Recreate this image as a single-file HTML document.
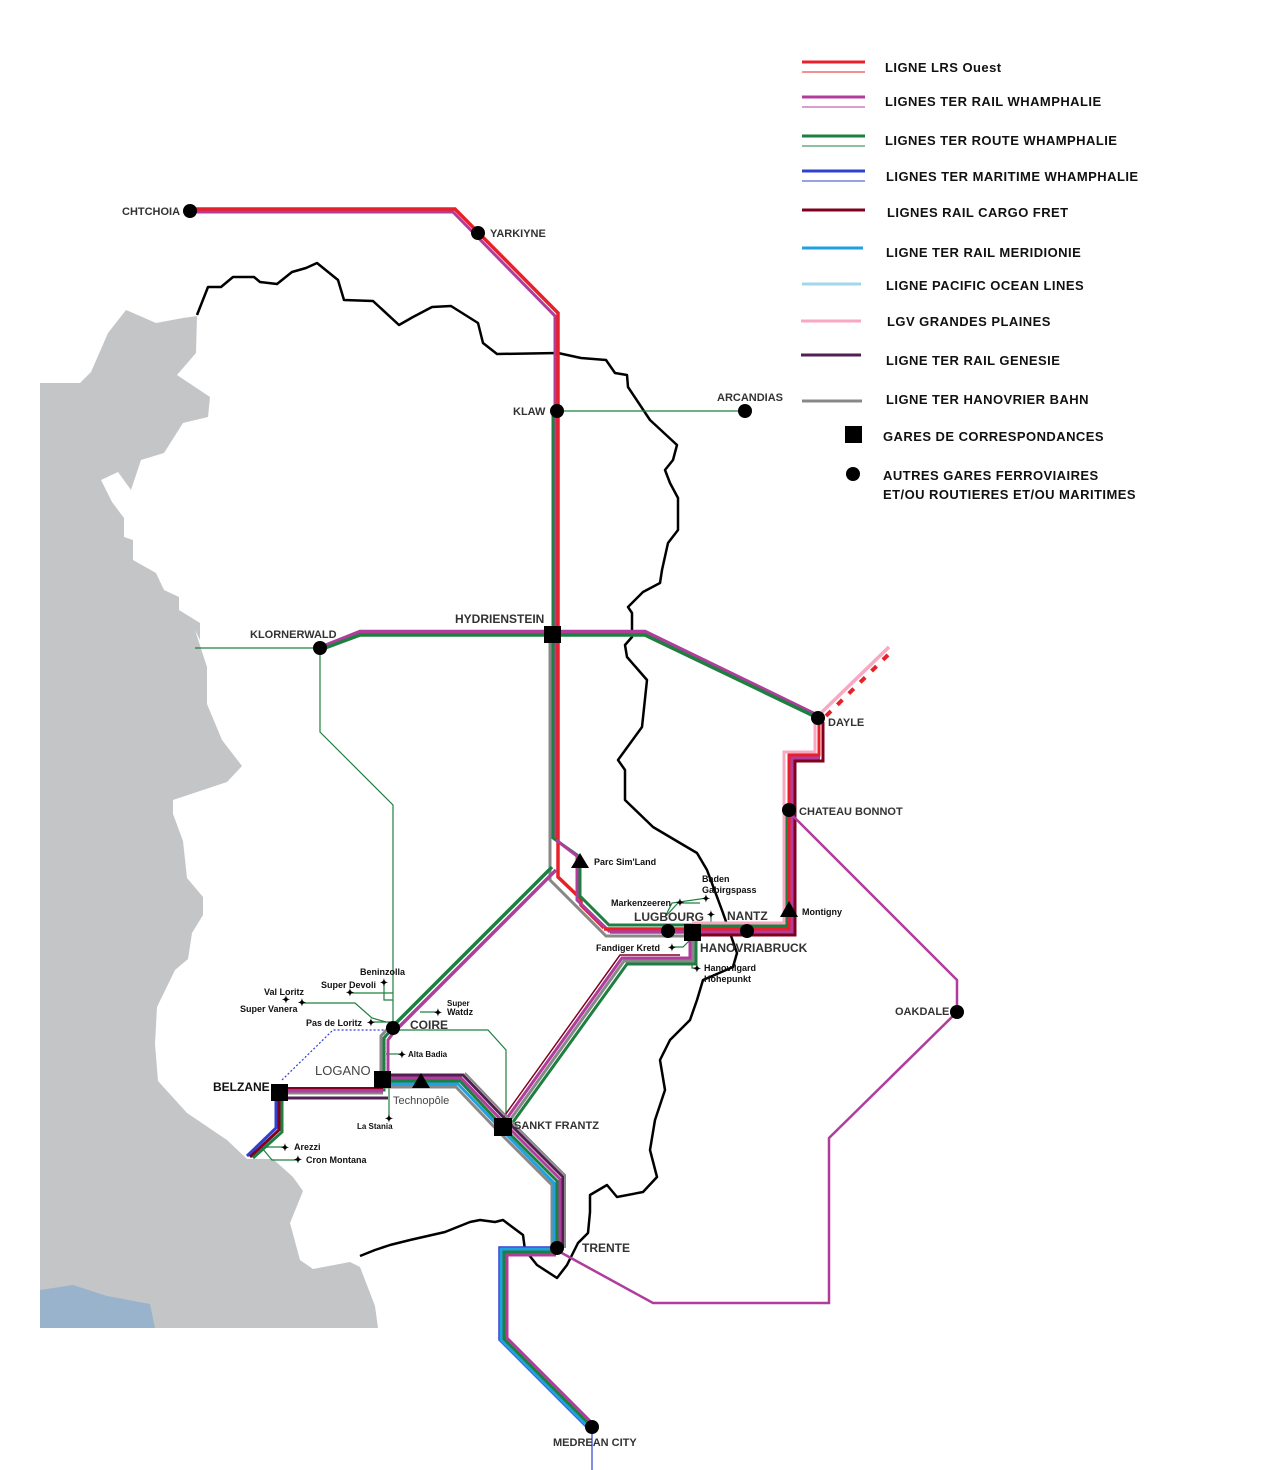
<!DOCTYPE html>
<html><head><meta charset="utf-8"><style>
html,body{margin:0;padding:0;background:#fff;}
svg{display:block;}
text{font-family:"Liberation Sans",Arial,sans-serif;font-weight:bold;fill:#222;}
.lg{font-size:13px;fill:#111;letter-spacing:0.45px;}
.st{font-size:11px;fill:#333;}
.sm{font-size:9px;fill:#111;}
</style></head><body>
<svg width="1285" height="1470" viewBox="0 0 1285 1470" xmlns="http://www.w3.org/2000/svg">
<!-- land -->
<polygon fill="#c4c5c7" points="40,383 80,383 91,372 108,333 126,310 156,323 183,318 197,316 196,353 177,375 210,397 208,417 183,423 164,453 141,460 131,490 118,472 101,480 112,502 124,518 124,537 133,540 133,560 156,573 164,590 179,597 179,610 200,623 200,640 195,630 207,667 207,704 222,740 242,766 227,782 173,800 173,814 183,841 187,878 203,897 203,915 192,933 188,959 175,970 157,1007 155,1044 158,1081 187,1113 227,1140 247,1159 273,1159 293,1177 303,1191 290,1223 300,1260 313,1269 350,1262 360,1267 375,1306 378,1328 40,1328"/>
<polygon fill="#9ab3cc" points="40,1290 73,1285 107,1296 150,1304 155,1328 40,1328"/>
<!-- border -->
<polyline fill="none" stroke="#000" stroke-width="2.5" stroke-linejoin="round" points="197,315 208,287 221,287 233,277 254,277 260,282 277,284 292,272 306,268 317,263 338,280 344,300 373,301 399,325 413,317 432,307 451,306 478,323 483,343 497,354 558,353 581,358 606,360 615,373 627,375 628,387 650,420 677,445 673,460 665,470 670,483 678,498 678,530 668,543 662,570 660,583 643,592 628,607 632,613 632,637 625,645 627,657 647,680 642,727 618,760 625,770 625,800 653,827 680,843 697,853 707,870 723,913 730,933 737,953 733,967 703,980 697,1000 690,1020 670,1040 660,1060 665,1090 655,1120 650,1150 657,1177 643,1192 617,1197 607,1185 590,1195 590,1212 588,1233 578,1243 567,1265 557,1278 537,1265 525,1250 523,1235 503,1220 495,1222 480,1220 470,1222 445,1232 410,1240 390,1245 375,1250 360,1256"/>

<g fill="none" stroke-linejoin="miter">
<!-- thin green connectors -->
<g stroke="#1e8040" stroke-width="1.2">
<line x1="557" y1="411" x2="745" y2="411"/>
<line x1="195" y1="648" x2="320" y2="648"/>
<polyline points="320,648 320,732 393,805 393,1028"/>
<polyline points="393,1030 488,1030 506,1050 506,1125"/>
<polyline points="393,1000 384,1000 384,983"/>
<polyline points="393,993 350,993"/>
<polyline points="303,1003 355,1003 372,1018 386,1022"/>
<polyline points="372,1022 390,1022"/>
<polyline points="420,1012 437,1012"/>
<polyline points="386,1054 402,1054"/>
<polyline points="389,1085 389,1118"/>
<polyline points="262,1148 268,1147 285,1147"/>
<polyline points="262,1148 272,1160 298,1160"/>
<polyline points="665,917 678,903 700,903"/>
<polyline points="665,917 672,903 707,898"/>
<polyline points="711,925 711,914"/>
<polyline points="672,947 683,947 692,938"/>
<polyline points="692,955 692,968 697,968"/>
</g>
<polyline stroke="#3040d0" stroke-width="1.2" stroke-dasharray="2,2" points="282,1080 333,1030 385,1030 385,1078"/>

<!-- top trunk -->
<polyline stroke="#b03c9c" stroke-width="3" points="190,212 453,212 555,316 555,840"/>
<polyline stroke="#e8202a" stroke-width="3.5" points="190,209 455,209 558,313 558,877 581,899 581,905 604,928"/>
<polyline stroke="#1e8040" stroke-width="3" points="553,411 553,838 580,857 580,896 609,925 692,925"/>
<polyline stroke="#b03c9c" stroke-width="3" points="556,840 577,856 577,900 610,932"/>
<polyline stroke="#888" stroke-width="3" points="550,634 550,880 606,936 692,936"/>
<!-- left branch to Coire -->
<polyline stroke="#b03c9c" stroke-width="3.5" points="556,870 394,1032"/>
<polyline stroke="#1e8040" stroke-width="3.5" points="552,867 391,1028"/>
<!-- horizontal bundle -->
<polyline stroke="#e8202a" stroke-width="3.5" points="604,929 692,929"/>
<polyline stroke="#b03c9c" stroke-width="3.5" points="610,932 692,932"/>
<!-- right of Hanovriabruck up to Dayle -->
<polyline stroke="#f8a8c0" stroke-width="3" points="692,923 784,923 784,752 815,752 815,718"/>
<polyline stroke="#1e8040" stroke-width="3" points="692,926 787,926 787,810"/>
<polyline stroke="#e8202a" stroke-width="3" points="692,929 789,929 789,755 819,755 819,718"/>
<polyline stroke="#b03c9c" stroke-width="3" points="692,932 792,932 792,758 820,758"/>
<polyline stroke="#800020" stroke-width="3" points="692,935 795,935 795,761 823,761 823,722"/>
<!-- dashed to NE -->
<line x1="822" y1="712" x2="889" y2="647" stroke="#f8a8c0" stroke-width="3.5"/>
<line x1="826" y1="716" x2="893" y2="650" stroke="#e8202a" stroke-width="4" stroke-dasharray="7,9"/>
<!-- Hydrienstein horizontal -->
<polyline stroke="#b03c9c" stroke-width="4.5" points="325,646 360,632 645,632 818,716"/>
<polyline stroke="#1e8040" stroke-width="3.5" points="325,648 360,635 645,635 818,718"/>
<!-- Chateau Bonnot purple loop -->
<polyline stroke="#b03c9c" stroke-width="2.5" points="789,812 957,980 957,1012 829,1138 829,1303 653,1303 560,1252"/>
<!-- Hanovriabruck down to Sankt Frantz -->
<polyline stroke="#1e8040" stroke-width="3" points="696,935 696,964 627,964 508,1129"/>
<polyline stroke="#888" stroke-width="3" points="693,935 693,961 624,961 505,1127"/>
<polyline stroke="#b03c9c" stroke-width="3" points="690,940 690,958 622,958 502,1125"/>
<polyline stroke="#800020" stroke-width="1.5" points="680,955 620,955 500,1122"/>
<!-- Coire - Logano - Belzane -->
<polyline stroke="#888" stroke-width="3" points="390,1026 381,1036 381,1080"/>
<polyline stroke="#1e8040" stroke-width="3" points="392,1029 384,1038 384,1090 280,1090"/>
<polyline stroke="#b03c9c" stroke-width="3" points="394,1032 388,1040 388,1080"/>
<polyline stroke="#800020" stroke-width="2" points="383,1088 280,1088"/>
<polyline stroke="#888" stroke-width="3" points="383,1093 280,1093"/>
<polyline stroke="#b03c9c" stroke-width="3" points="383,1091 280,1091"/>
<polyline stroke="#502050" stroke-width="3" points="388,1098 280,1098"/>
<!-- Belzane down -->
<polyline stroke="#3040d0" stroke-width="3" points="276,1094 276,1128 247,1156"/>
<polyline stroke="#800020" stroke-width="3" points="279,1094 279,1130 250,1157"/>
<polyline stroke="#1e8040" stroke-width="3" points="282,1094 282,1132 253,1158"/>
<!-- Logano - Sankt Frantz - Trente -->
<polyline stroke="#888" stroke-width="3" points="383,1087 456,1087 498,1131 552,1185 552,1248"/>
<polyline stroke="#20a0e0" stroke-width="3" points="383,1084 458,1084 501,1129 554,1183 554,1248"/>
<polyline stroke="#1e8040" stroke-width="3" points="383,1081 460,1081 503,1127 557,1181 557,1248"/>
<polyline stroke="#b03c9c" stroke-width="3" points="383,1078 461,1078 505,1124 560,1179 560,1248"/>
<polyline stroke="#502050" stroke-width="3" points="383,1075 463,1075 507,1121 563,1177 563,1248"/>
<polyline stroke="#888" stroke-width="2" points="465,1073 509,1119 565,1175 565,1248"/>
<!-- Trente to Medrean -->
<polyline stroke="#3040d0" stroke-width="1.5" points="556,1247 499,1247 499,1340 588,1429"/>
<polyline stroke="#20a0e0" stroke-width="3" points="556,1249 501,1249 501,1340 589,1428"/>
<polyline stroke="#1e8040" stroke-width="3" points="556,1252 504,1252 504,1339 591,1426"/>
<polyline stroke="#b03c9c" stroke-width="3" points="556,1255 507,1255 507,1338 593,1424"/>
<line x1="592" y1="1430" x2="592" y2="1470" stroke="#3040d0" stroke-width="1.2"/>
</g>

<!-- stations -->
<g fill="#000">
<circle cx="190" cy="211" r="7"/><circle cx="478" cy="233" r="7"/>
<circle cx="557" cy="411" r="7"/><circle cx="745" cy="411" r="7"/>
<circle cx="320" cy="648" r="7"/><circle cx="818" cy="718" r="7"/>
<circle cx="789" cy="810" r="7"/><circle cx="668" cy="931" r="7"/>
<circle cx="747" cy="931" r="7"/><circle cx="393" cy="1028" r="7"/>
<circle cx="957" cy="1012" r="7"/><circle cx="557" cy="1248" r="7"/>
<circle cx="592" cy="1427" r="7"/>
<rect x="544" y="626" width="17" height="17"/>
<rect x="684" y="924" width="17" height="17"/>
<rect x="374" y="1071" width="17" height="17"/>
<rect x="271" y="1084" width="17" height="17"/>
<rect x="494" y="1118" width="18" height="18"/>
<polygon points="580,853 571,868 589,868"/>
<polygon points="789,901 780,917 798,917"/>
<polygon points="421,1073 412,1088 430,1088"/>
<g font-size="11" font-family="DejaVu Sans" text-anchor="middle">
<text x="384" y="986" style="fill:#000;font-size:10px">✦</text>
<text x="350" y="996" style="fill:#000;font-size:10px">✦</text>
<text x="286" y="1003" style="fill:#000;font-size:10px">✦</text>
<text x="302" y="1006" style="fill:#000;font-size:10px">✦</text>
<text x="371" y="1026" style="fill:#000;font-size:10px">✦</text>
<text x="438" y="1016" style="fill:#000;font-size:10px">✦</text>
<text x="402" y="1058" style="fill:#000;font-size:10px">✦</text>
<text x="389" y="1122" style="fill:#000;font-size:10px">✦</text>
<text x="285" y="1151" style="fill:#000;font-size:10px">✦</text>
<text x="298" y="1163" style="fill:#000;font-size:10px">✦</text>
<text x="680" y="906" style="fill:#000;font-size:10px">✦</text>
<text x="706" y="902" style="fill:#000;font-size:10px">✦</text>
<text x="711" y="918" style="fill:#000;font-size:10px">✦</text>
<text x="672" y="951" style="fill:#000;font-size:10px">✦</text>
<text x="697" y="972" style="fill:#000;font-size:10px">✦</text>
</g>
</g>

<!-- labels -->
<text class="st" x="122" y="215">CHTCHOIA</text>
<text class="st" x="490" y="237">YARKIYNE</text>
<text class="st" x="513" y="415">KLAW</text>
<text class="st" x="717" y="401">ARCANDIAS</text>
<text class="st" x="455" y="623" style="font-size:12px">HYDRIENSTEIN</text>
<text class="st" x="250" y="638">KLORNERWALD</text>
<text class="st" x="828" y="726">DAYLE</text>
<text class="st" x="799" y="815">CHATEAU BONNOT</text>
<text class="sm" x="594" y="865">Parc Sim'Land</text>
<text class="sm" x="802" y="915">Montigny</text>
<text class="sm" x="702" y="882">Baden</text>
<text class="sm" x="702" y="893">Gabirgspass</text>
<text class="sm" x="611" y="906">Markenzeeren</text>
<text class="st" x="634" y="921" style="font-size:12px">LUGBOURG</text>
<text class="st" x="727" y="920" style="font-size:12px">NANTZ</text>
<text class="sm" x="596" y="951">Fandiger Kretd</text>
<text class="st" x="700" y="952" style="font-size:12px">HANOVRIABRUCK</text>
<text class="sm" x="704" y="971">Hanovilgard</text>
<text class="sm" x="704" y="982">Hohepunkt</text>
<text class="st" x="895" y="1015">OAKDALE</text>
<text class="sm" x="360" y="975">Beninzolla</text>
<text class="sm" x="321" y="988">Super Devoli</text>
<text class="sm" x="264" y="995">Val Loritz</text>
<text class="sm" x="240" y="1012">Super Vanera</text>
<text class="sm" x="306" y="1026">Pas de Loritz</text>
<text class="sm" x="447" y="1006" style="font-size:8px">Super</text>
<text class="sm" x="447" y="1015">Watdz</text>
<text class="st" x="410" y="1029" style="font-size:12px">COIRE</text>
<text class="sm" x="408" y="1057" style="font-size:8px">Alta Badia</text>
<text class="st" x="315" y="1075" style="font-size:13px;font-weight:normal;fill:#444">LOGANO</text>
<text class="st" x="213" y="1091" style="font-size:12px;fill:#111">BELZANE</text>
<text class="sm" x="393" y="1104" style="font-size:11px;font-weight:normal;fill:#444">Technopôle</text>
<text class="sm" x="357" y="1129" style="font-size:8px">La Stania</text>
<text class="sm" x="294" y="1150">Arezzi</text>
<text class="sm" x="306" y="1163">Cron Montana</text>
<text class="st" x="514" y="1129">SANKT FRANTZ</text>
<text class="st" x="582" y="1252" style="font-size:12px">TRENTE</text>
<text class="st" x="553" y="1446">MEDREAN CITY</text>

<!-- legend -->
<g stroke-width="3">
<line x1="802" y1="62" x2="865" y2="62" stroke="#e8202a"/><line x1="802" y1="72" x2="865" y2="72" stroke="#e8202a" stroke-width="1"/>
<line x1="802" y1="97" x2="865" y2="97" stroke="#b03c9c"/><line x1="802" y1="107" x2="865" y2="107" stroke="#b03c9c" stroke-width="1"/>
<line x1="802" y1="136" x2="865" y2="136" stroke="#1e8040"/><line x1="802" y1="146" x2="865" y2="146" stroke="#1e8040" stroke-width="1"/>
<line x1="802" y1="171" x2="865" y2="171" stroke="#3040d0"/><line x1="802" y1="181" x2="865" y2="181" stroke="#3040d0" stroke-width="1"/>
<line x1="802" y1="210" x2="865" y2="210" stroke="#800020"/>
<line x1="802" y1="248" x2="863" y2="248" stroke="#20a0e0"/>
<line x1="802" y1="284" x2="861" y2="284" stroke="#a0d8e8"/>
<line x1="801" y1="321" x2="861" y2="321" stroke="#f8a8c0"/>
<line x1="801" y1="355" x2="861" y2="355" stroke="#502050"/>
<line x1="802" y1="401" x2="862" y2="401" stroke="#888"/>
</g>
<rect x="845" y="426" width="17" height="17" fill="#000"/>
<circle cx="853" cy="474" r="7" fill="#000"/>
<text class="lg" x="885" y="72">LIGNE LRS Ouest</text>
<text class="lg" x="885" y="106">LIGNES TER RAIL WHAMPHALIE</text>
<text class="lg" x="885" y="145">LIGNES TER ROUTE WHAMPHALIE</text>
<text class="lg" x="886" y="181">LIGNES TER MARITIME WHAMPHALIE</text>
<text class="lg" x="887" y="217">LIGNES RAIL CARGO FRET</text>
<text class="lg" x="886" y="257">LIGNE TER RAIL MERIDIONIE</text>
<text class="lg" x="886" y="290">LIGNE PACIFIC OCEAN LINES</text>
<text class="lg" x="887" y="326">LGV GRANDES PLAINES</text>
<text class="lg" x="886" y="365">LIGNE TER RAIL GENESIE</text>
<text class="lg" x="886" y="404">LIGNE TER HANOVRIER BAHN</text>
<text class="lg" x="883" y="441">GARES DE CORRESPONDANCES</text>
<text class="lg" x="883" y="480">AUTRES GARES FERROVIAIRES</text>
<text class="lg" x="883" y="499">ET/OU ROUTIERES ET/OU MARITIMES</text>
</svg>
</body></html>
